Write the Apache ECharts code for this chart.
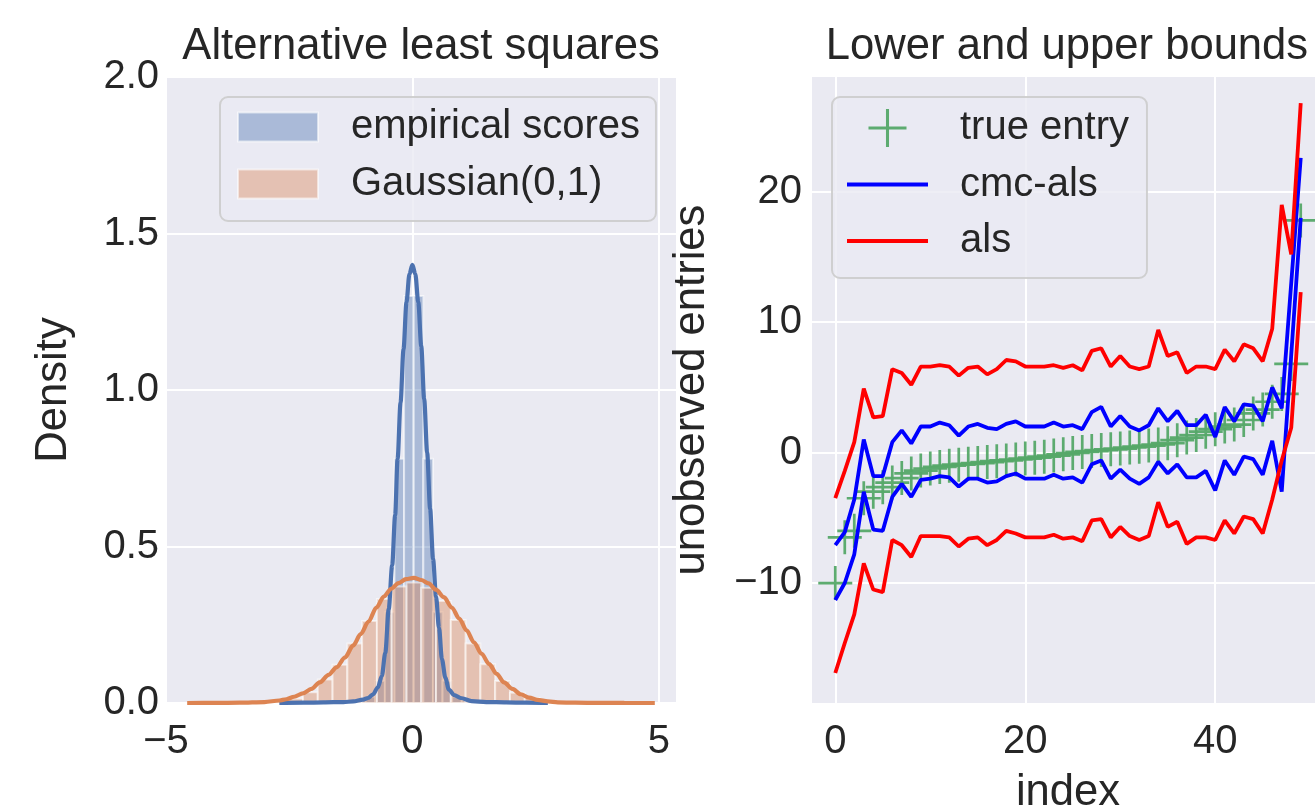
<!DOCTYPE html>
<html><head><meta charset="utf-8">
<script src="https://cdn.jsdelivr.net/npm/echarts@6/dist/echarts.min.js"></script>
<style>html,body{margin:0;padding:0;background:#fff}#c{width:1315px;height:812px}</style>
</head><body><div id="c"></div>
<script>
// ---------- Left panel data ----------
const empBinEdges = [-1.143, -0.948, -0.753, -0.558, -0.363, -0.168, 0.027, 0.222, 0.417, 0.612, 0.807, 1.002, 1.197];
const empBinHeights = [0.008, 0.02, 0.07, 0.29, 0.78, 1.30, 1.30, 0.78, 0.29, 0.07, 0.02, 0.008];
const gaussBinEdges = [-3.12, -2.82, -2.52, -2.22, -1.92, -1.62, -1.32, -1.02, -0.72, -0.42, -0.12, 0.18, 0.48, 0.78, 1.08, 1.38, 1.68, 1.98, 2.28, 2.58, 2.88, 3.18];
const gaussBinHeights = [0.002, 0.006, 0.014, 0.034, 0.075, 0.122, 0.19, 0.262, 0.332, 0.372, 0.385, 0.368, 0.326, 0.265, 0.19, 0.124, 0.07, 0.033, 0.016, 0.006, 0.002];
const empKdeX = [-2.7, -2.2, -1.8, -1.4, -1.2, -1.0, -0.9, -0.8, -0.7, -0.62, -0.55, -0.48, -0.41, -0.35, -0.3, -0.24, -0.18, -0.12, -0.06, 0, 0.06, 0.12, 0.18, 0.24, 0.3, 0.36, 0.42, 0.48, 0.54, 0.6, 0.67, 0.74, 0.85, 0.98, 1.2, 1.5, 1.9, 2.3, 2.75];
const empKdeY = [0, 0.001, 0.002, 0.003, 0.005, 0.011, 0.016, 0.027, 0.05, 0.086, 0.16, 0.30, 0.44, 0.60, 0.78, 0.96, 1.13, 1.28, 1.37, 1.40, 1.37, 1.28, 1.14, 0.97, 0.80, 0.62, 0.46, 0.34, 0.24, 0.14, 0.08, 0.043, 0.025, 0.016, 0.006, 0.003, 0.002, 0.001, 0];
const gaussKdeX = [-4.57, -4.0, -3.5, -3.0, -2.7, -2.56, -2.4, -2.22, -2.05, -1.88, -1.7, -1.54, -1.37, -1.2, -1.05, -0.89, -0.73, -0.58, -0.43, -0.28, -0.13, 0.03, 0.18, 0.33, 0.48, 0.64, 0.8, 0.95, 1.1, 1.25, 1.4, 1.56, 1.71, 1.86, 2.03, 2.2, 2.37, 2.54, 2.75, 2.95, 3.3, 3.8, 4.3, 4.92];
const gaussKdeY = [0, 0.0002, 0.001, 0.003, 0.008, 0.012, 0.02, 0.031, 0.045, 0.066, 0.09, 0.114, 0.145, 0.184, 0.22, 0.26, 0.305, 0.34, 0.365, 0.383, 0.396, 0.40, 0.393, 0.382, 0.362, 0.338, 0.305, 0.27, 0.232, 0.194, 0.158, 0.124, 0.093, 0.066, 0.045, 0.028, 0.017, 0.01, 0.005, 0.002, 0.001, 0.0003, 0.0001, 0];
const leftXTicks = [-5, 0, 5];
const leftYTicks = [0, 0.5, 1, 1.5, 2];

// ---------- Right panel data ----------
const entryIndex = Array.from({length: 50}, (_, i) => i);
const trueEntry = [-10.0, -6.5, -6.0, -3.5, -3.0, -2.65, -2.3, -1.95, -1.6, -1.38,
  -1.22, -1.1, -1.0, -0.93, -0.86, -0.8, -0.73, -0.66, -0.6, -0.53,
  -0.46, -0.39, -0.31, -0.23, -0.13, -0.03, 0.05, 0.12, 0.19, 0.25,
  0.31, 0.39, 0.45, 0.54, 0.62, 0.72, 0.95, 1.15, 1.35, 1.6,
  1.8, 2.0, 2.15, 2.5, 3.0, 3.3, 3.9, 4.5, 6.8, 17.8];
const cmcUpper = [-7.1, -6.1, -3.6, 1.0, -1.8, -1.8, 0.8, 1.7, 0.7, 2.0,
  2.0, 2.3, 2.1, 1.3, 2.0, 2.2, 1.9, 1.8, 2.2, 2.4,
  2.0, 2.0, 2.0, 2.3, 2.0, 2.1, 1.8, 3.1, 3.5, 2.0,
  2.8, 2.0, 1.7, 2.1, 3.4, 2.4, 3.2, 2.1, 2.1, 2.9,
  1.2, 3.5, 2.4, 3.7, 3.6, 2.4, 5.0, 3.4, 13.0, 22.6];
const cmcLower = [-11.3, -10.0, -7.8, -3.0, -5.9, -6.0, -3.4, -2.4, -3.4, -2.1,
  -2.0, -1.8, -1.9, -2.6, -2.0, -2.0, -2.3, -2.2, -1.8, -1.6,
  -2.0, -2.0, -2.0, -1.7, -2.0, -1.9, -2.3, -0.9, -0.6, -2.0,
  -1.3, -2.0, -2.4, -1.9, -0.7, -1.6, -0.9, -1.9, -1.9, -1.4,
  -2.9, -0.6, -1.7, -0.3, -0.5, -1.7, 0.9, -3.0, 7.5, 18.0];
const alsUpper = [-3.5, -1.4, 0.8, 4.9, 2.7, 2.8, 6.4, 6.1, 5.2, 6.6,
  6.6, 6.7, 6.6, 5.9, 6.5, 6.6, 6.0, 6.4, 7.1, 7.0,
  6.6, 6.6, 6.6, 6.7, 6.5, 6.7, 6.3, 7.8, 8.0, 6.6,
  7.4, 6.6, 6.4, 6.6, 9.4, 7.4, 7.7, 6.1, 6.6, 6.6,
  6.4, 7.9, 7.0, 8.3, 8.0, 7.0, 9.5, 19.0, 15.2, 26.8];
const alsLower = [-16.9, -14.6, -12.4, -8.5, -10.5, -10.7, -6.7, -7.1, -8.0, -6.4,
  -6.4, -6.4, -6.5, -7.2, -6.6, -6.5, -7.1, -6.7, -6.0, -6.2,
  -6.5, -6.5, -6.5, -6.3, -6.6, -6.5, -6.8, -5.2, -5.1, -6.5,
  -5.7, -6.4, -6.7, -6.4, -3.8, -5.7, -5.3, -7.0, -6.5, -6.5,
  -6.7, -5.2, -6.2, -4.9, -5.1, -6.2, -3.6, -0.6, 1.9, 12.3];
const rightXTicks = [0, 20, 40];
const rightYTicks = [-10, 0, 10, 20];

// ---------- Styles ----------
const FONT = '"Liberation Sans", Arial, Helvetica, sans-serif';
const TXT = '#262626';
const BG = '#EAEAF2';
const TICK_FS = 40, LABEL_FS = 43.6, LEG_FS = 40;
const BLUE_FILL = 'rgba(76,114,176,0.4)';
const ORANGE_FILL = 'rgba(221,132,82,0.4)';
const EDGE = 'rgba(255,255,255,0.55)';
const PLUS = 'path://M-0.08,-1 L0.08,-1 L0.08,-0.08 L1,-0.08 L1,0.08 L0.08,0.08 L0.08,1 L-0.08,1 L-0.08,0.08 L-1,0.08 L-1,-0.08 L-0.08,-0.08 Z';
const LINE_ICON = 'path://M0,0 L81,0 L81,3.8 L0,3.8 Z';
const minus = v => String(v).replace('-', '\u2212');

function binData(edges, heights) {
  return heights.map((h, i) => [edges[i], edges[i + 1], h]);
}
function histRender(fill) {
  return function (params, api) {
    const a = api.coord([api.value(0), api.value(2)]);
    const b = api.coord([api.value(1), 0]);
    return {
      type: 'rect',
      shape: { x: a[0], y: a[1], width: b[0] - a[0], height: b[1] - a[1] },
      style: { fill: fill, stroke: EDGE, lineWidth: 2 }
    };
  };
}
function pairs(xs, ys) { return xs.map((x, i) => [x, ys[i]]); }

function valAxis(gridIndex, min, max, ticks, fmt, margin, extra) {
  return Object.assign({
    type: 'value', gridIndex, min, max,
    axisLine: { show: false },
    axisTick: { show: false, customValues: ticks },
    axisLabel: { customValues: ticks, formatter: fmt, fontSize: TICK_FS, color: TXT, fontFamily: FONT, margin: margin },
    splitLine: { show: true, lineStyle: { color: '#ffffff', width: 2 } },
    nameTextStyle: { fontSize: LABEL_FS, color: TXT, fontFamily: FONT },
    nameLocation: 'middle'
  }, extra || {});
}

const chart = echarts.init(document.getElementById('c'), null, { renderer: 'canvas' });
chart.setOption({
  animation: false,
  backgroundColor: '#ffffff',
  textStyle: { fontFamily: FONT },
  graphic: [
    { type: 'text', x: 421, y: 47, style: { text: 'Alternative least squares', font: LABEL_FS + 'px ' + FONT, fill: TXT, align: 'center', verticalAlign: 'middle' } },
    { type: 'text', x: 1067, y: 47, style: { text: 'Lower and upper bounds', font: LABEL_FS + 'px ' + FONT, fill: TXT, align: 'center', verticalAlign: 'middle' } }
  ],
  grid: [
    { left: 166, top: 77, width: 510, height: 626, show: true, backgroundColor: BG, borderWidth: 0, containLabel: false, outerBoundsMode: 'none' },
    { left: 812, top: 77, width: 512, height: 626, show: true, backgroundColor: BG, borderWidth: 0, containLabel: false, outerBoundsMode: 'none' }
  ],
  xAxis: [
    valAxis(0, -5, 5.35, leftXTicks, v => minus(v), 19),
    valAxis(1, -2.45, 51.45, rightXTicks, v => minus(v), 19, { name: 'index', nameGap: 68 })
  ],
  yAxis: [
    valAxis(0, 0, 2, leftYTicks, v => v.toFixed(1), 7, { name: 'Density', nameGap: 90, nameRotate: 90 }),
    valAxis(1, -19.2, 28.8, rightYTicks, v => minus(v), 10, { name: 'unobserved entries', nameGap: 98, nameRotate: 90 })
  ],
  legend: [
    {
      orient: 'vertical', left: 220, top: 97, padding: [10, 16, 17, 17], itemGap: 17,
      itemWidth: 80, itemHeight: 29,
      backgroundColor: 'rgba(234,234,242,0.8)', borderColor: 'rgba(204,204,204,0.9)', borderWidth: 2, borderRadius: 8,
      textStyle: { fontSize: LEG_FS, color: TXT, fontFamily: FONT, lineHeight: 40, padding: [0, 0, 0, 28] },
      data: [
        { name: 'empirical scores', icon: 'rect', itemStyle: { color: BLUE_FILL, borderColor: EDGE, borderWidth: 2 } },
        { name: 'Gaussian(0,1)', icon: 'rect', itemStyle: { color: ORANGE_FILL, borderColor: EDGE, borderWidth: 2 } }
      ]
    },
    {
      orient: 'vertical', left: 832, top: 97, padding: [11, 18, 17, 15], itemGap: 16.5,
      itemWidth: 81, itemHeight: 38,
      backgroundColor: 'rgba(234,234,242,0.8)', borderColor: 'rgba(204,204,204,0.9)', borderWidth: 2, borderRadius: 8,
      textStyle: { fontSize: LEG_FS, color: TXT, fontFamily: FONT, lineHeight: 40, padding: [0, 0, 0, 27] },
      data: [
        { name: 'true entry', icon: PLUS },
        { name: 'cmc-als', icon: LINE_ICON, itemStyle: { color: '#0000FF', borderWidth: 0 } },
        { name: 'als', icon: LINE_ICON, itemStyle: { color: '#FF0000', borderWidth: 0 } }
      ]
    }
  ],
  series: [
    { name: 'empirical scores', type: 'custom', xAxisIndex: 0, yAxisIndex: 0, renderItem: histRender(BLUE_FILL),
      itemStyle: { color: BLUE_FILL }, encode: { x: [0, 1], y: 2 }, data: binData(empBinEdges, empBinHeights), z: 2 },
    { name: 'Gaussian(0,1)', type: 'custom', xAxisIndex: 0, yAxisIndex: 0, renderItem: histRender(ORANGE_FILL),
      itemStyle: { color: ORANGE_FILL }, encode: { x: [0, 1], y: 2 }, data: binData(gaussBinEdges, gaussBinHeights), z: 2 },
    { name: 'empKde', type: 'line', xAxisIndex: 0, yAxisIndex: 0, symbol: 'none', smooth: 0.3, smoothMonotone: 'x',
      lineStyle: { color: '#4C72B0', width: 4.2 }, data: pairs(empKdeX, empKdeY), z: 3, silent: true },
    { name: 'gaussKde', type: 'line', xAxisIndex: 0, yAxisIndex: 0, symbol: 'none', smooth: 0.3, smoothMonotone: 'x',
      lineStyle: { color: '#DD8452', width: 4.2 }, data: pairs(gaussKdeX, gaussKdeY), z: 4, silent: true },

    { name: 'true entry', type: 'scatter', xAxisIndex: 1, yAxisIndex: 1, symbol: PLUS, symbolSize: 34,
      itemStyle: { color: '#55A868', opacity: 0.95 }, data: pairs(entryIndex, trueEntry), z: 2 },
    { name: 'cmc-als', type: 'line', xAxisIndex: 1, yAxisIndex: 1, symbol: 'none',
      lineStyle: { color: '#0000FF', width: 3.8 }, itemStyle: { color: '#0000FF' }, data: pairs(entryIndex, cmcUpper), z: 3 },
    { name: 'cmc-als', type: 'line', xAxisIndex: 1, yAxisIndex: 1, symbol: 'none',
      lineStyle: { color: '#0000FF', width: 3.8 }, itemStyle: { color: '#0000FF' }, data: pairs(entryIndex, cmcLower), z: 3 },
    { name: 'als', type: 'line', xAxisIndex: 1, yAxisIndex: 1, symbol: 'none',
      lineStyle: { color: '#FF0000', width: 3.8 }, itemStyle: { color: '#FF0000' }, data: pairs(entryIndex, alsUpper), z: 4 },
    { name: 'als', type: 'line', xAxisIndex: 1, yAxisIndex: 1, symbol: 'none',
      lineStyle: { color: '#FF0000', width: 3.8 }, itemStyle: { color: '#FF0000' }, data: pairs(entryIndex, alsLower), z: 4 }
  ]
});
</script>
</body></html>
